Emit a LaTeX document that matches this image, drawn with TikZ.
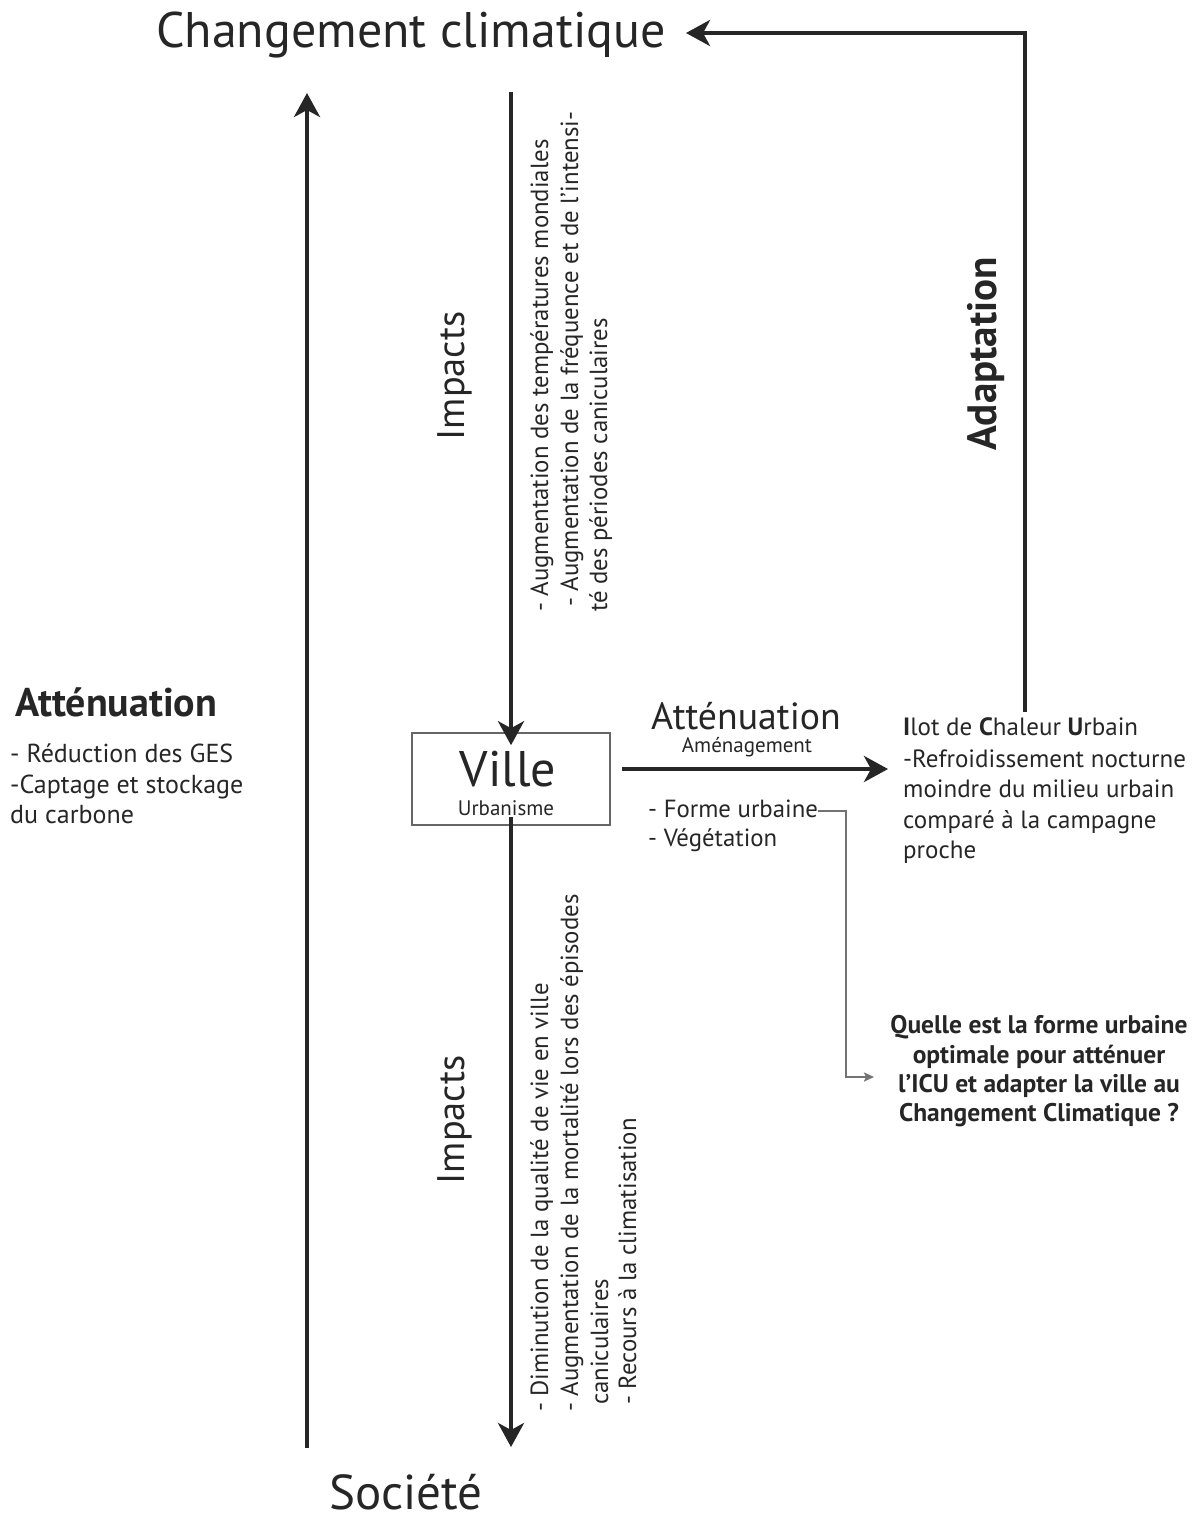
\documentclass[tikz,border=0pt]{standalone}
\usepackage{fontspec}
\setmainfont{PT Sans}
\usetikzlibrary{arrows.meta}
\newcommand{\myfs}[2]{\fontsize{#1}{#2}\selectfont}
\tikzset{
  bigarrow/.style={line width=4.5pt, draw=black!85, -{Stealth[length=24pt,width=26pt,inset=7pt]}},
  greyarrow/.style={line width=2pt, draw=black!55, -{Stealth[length=10pt,width=9pt,inset=2pt]}},
  txt/.style={inner sep=0pt, text=black!85},
  rotl/.style={txt, rotate=90, anchor=base west, font=\myfs{24.8}{30}},
  icul/.style={txt, anchor=base west, font=\myfs{25}{31}},
  leftl/.style={txt, anchor=base west, font=\myfs{26}{31}},
  ql/.style={txt, anchor=base, font=\bfseries\myfs{25.5}{30}},
}
\begin{document}
\begin{tikzpicture}[x=1pt,y=-1pt]
\useasboundingbox (0,0) rectangle (1197,1520);
% titles
\node[txt, anchor=base, font=\myfs{50}{54}] (cc) at (411,48) {Changement climatique};
\node[txt, anchor=base, font=\myfs{49}{52}] (soc) at (406,1509) {Société};
% Ville box
\node[draw=black!60, line width=1.6pt, minimum width=198pt, minimum height=92pt, inner sep=0pt] (ville) at (511,779) {};
\node[txt, anchor=base, font=\myfs{50}{54}] (villet) at (508,786) {Ville};
\node[txt, anchor=base, font=\myfs{21}{24}] (urb) at (506,815) {Urbanisme};
% coordinates
\coordinate (lbot) at (307,1448);
\coordinate (ltop) at (307,93);
\coordinate (itop) at (511,92);
\coordinate (ibot) at (511,1447);
\coordinate (hstart) at (622,769);
\coordinate (hend) at (888,769);
\coordinate (adbot) at (1025,712);
\coordinate (adend) at (686,33);
% main arrows
\draw[bigarrow] (lbot) -- (ltop);
\draw[bigarrow] (itop) -- ([yshift=-13pt]ville.north);
\draw[bigarrow] ([yshift=9pt]ville.south) -- (ibot);
\draw[bigarrow] (hstart) -- (hend);
\draw[bigarrow] (adbot) |- (adend);
% Impacts labels
\node[txt, rotate=90, font=\myfs{38.4}{42}] (imp1) at (455,376) {Impacts};
\node[txt, rotate=90, font=\myfs{38.4}{42}] (imp2) at (455,1120) {Impacts};
% upper impacts text
\node[rotl] (u1) at (548,612) {- Augmentation des températures mondiales};
\node[rotl] (u2) at (578,607) {- Augmentation de la fréquence et de l’intensi-};
\node[rotl] (u3) at (607,612) {té des périodes caniculaires};
% lower impacts text
\node[rotl] (d1) at (548,1412) {- Diminution de la qualité de vie en ville};
\node[rotl] (d2) at (578,1412) {- Augmentation de la mortalité lors des épisodes};
\node[rotl] (d3) at (608,1405) {caniculaires};
\node[rotl] (d4) at (636,1405) {- Recours à la climatisation};
% Adaptation
\node[txt, rotate=90, font=\bfseries\myfs{41}{44}] (adapt) at (986,354) {Adaptation};
% Attenuation middle
\node[txt, anchor=base, font=\myfs{37.8}{40}] (att) at (746,729) {Atténuation};
\node[txt, anchor=base, font=\myfs{21}{24}] (amen) at (747,752) {Aménagement};
\node[txt, anchor=base west, font=\myfs{24.8}{30}] (forme) at (648,817) {- Forme urbaine};
\node[txt, anchor=base west, font=\myfs{24.8}{30}] (veg) at (648,846) {- Végétation};
% ICU
\node[icul] (icu1) at (903,735) {\textbf{I}lot de \textbf{C}haleur \textbf{U}rbain};
\node[icul] (icu2) at (903,767) {-Refroidissement nocturne};
\node[icul] (icu3) at (903,797) {moindre du milieu urbain};
\node[icul] (icu4) at (903,828) {comparé à la campagne};
\node[icul] (icu5) at (903,858) {proche};
% left attenuation
\node[txt, anchor=base west, font=\bfseries\myfs{40}{44}] (latt) at (15,716) {Atténuation};
\node[leftl] (l1) at (10,762) {- Réduction des GES};
\node[leftl] (l2) at (10,793) {-Captage et stockage};
\node[leftl] (l3) at (10,823) {du carbone};
% question
\node[ql] (q1) at (1039,1033) {Quelle est la forme urbaine};
\node[ql] (q2) at (1039,1063) {optimale pour atténuer};
\node[ql] (q3) at (1039,1092) {l’ICU et adapter la ville au};
\node[ql] (q4) at (1039,1121) {Changement Climatique ?};
% grey connector
\coordinate (g1) at (818,811);
\coordinate (g2) at (874,1077);
\draw[greyarrow] (g1) -- (846,811) |- (g2);
\end{tikzpicture}
\end{document}
